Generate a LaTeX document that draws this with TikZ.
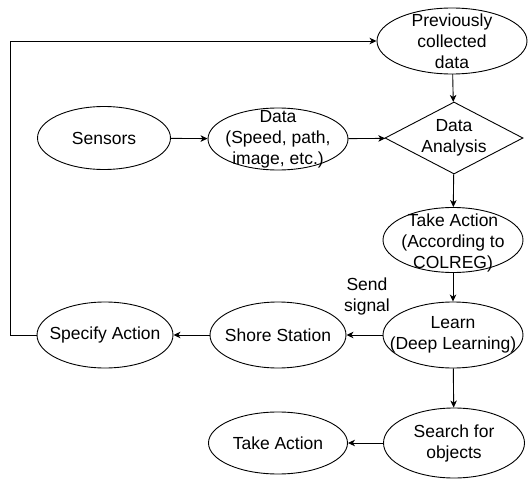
\documentclass[tikz,border=0pt]{standalone}
\usepackage{fontspec}
\setmainfont{Liberation Sans}
\usetikzlibrary{shapes.geometric,arrows.meta}
\begin{document}
\begin{tikzpicture}[x=1pt,y=-1pt,
  ell/.style={ellipse,draw,line width=0.9pt,minimum width=#1,minimum height=64pt,inner sep=0pt},
  txt/.style={align=center,inner sep=0pt,font=\fontsize{17.5}{21}\selectfont},
  arr/.style={draw,line width=0.9pt,-{Stealth[length=7pt,width=6.5pt,inset=2pt]}}
]
\useasboundingbox (0,0) rectangle (528,479);
% shapes
\node[ell=150pt,minimum height=66pt] (prev) at (452,41) {};
\node[ell=133pt,minimum height=63pt] (sens) at (104,138) {};
\node[ell=140pt,minimum height=62pt] (data) at (278,139) {};
\node[diamond,draw,line width=0.9pt,minimum width=138pt,minimum height=72pt,inner sep=0pt] (ana) at (454,138) {};
\node[ell=140pt,minimum height=65pt] (col) at (453,240) {};
\node[ell=140pt,minimum height=66pt] (learn) at (453,335) {};
\node[ell=136pt,minimum height=66pt] (shore) at (278,335) {};
\node[ell=136pt,minimum height=66pt] (spec) at (105,335) {};
\node[ell=141pt,minimum height=70pt] (search) at (454,443) {};
\node[ell=139pt,minimum height=62pt] (take) at (278,443) {};
% texts
\node[txt] at (prev) {Previously\\collected\\data};
\node[txt] at (sens) {Sensors};
\node[txt] at (data) {Data\\(Speed, path,\\image, etc.)};
\node[txt] at (ana) {Data\\Analysis};
\node[txt] at ([yshift=-3pt]col.center) {Take Action\\(According to\\COLREG)};
\node[txt] at (learn) {Learn\\(Deep Learning)};
\node[txt] at (shore) {Shore Station};
\node[txt] at (spec) {Specify Action};
\node[txt] at (search) {Search for\\objects};
\node[txt] at (take) {Take Action};
\node[txt] (sig) at (367,296) {Send\\signal};
% connectors
\coordinate (c1) at (10,335);
\coordinate (c2) at (10,41);
\draw[arr] (sens) -- (data);
\draw[arr] (data) -- (ana);
\draw[arr] (prev) -- (ana);
\draw[arr] (ana) -- (col);
\draw[arr] (col) -- (learn);
\draw[arr] (learn) -- (shore);
\draw[arr] (shore) -- (spec);
\draw[arr] (learn) -- (search);
\draw[arr] (search) -- (take);
\draw[arr] (spec.west) -- (c1) -- (c2) -- (prev.west);
\end{tikzpicture}
\end{document}
